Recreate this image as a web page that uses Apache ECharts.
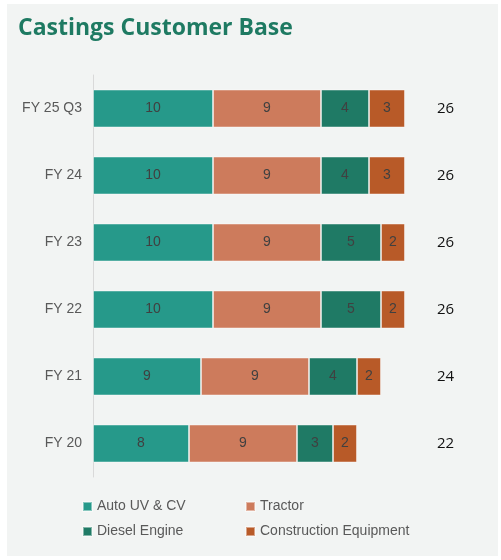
<!DOCTYPE html>
<html>
<head>
<meta charset="utf-8">
<script src="https://cdn.jsdelivr.net/npm/echarts@6/dist/echarts.min.js"></script>
<style>
  html, body { margin: 0; padding: 0; background: #fff; }
  #main { width: 501px; height: 560px; }
</style>
</head>
<body>
<div id="main"></div>
<script>
// categories, top to bottom as drawn
const years = ["FY 25 Q3", "FY 24", "FY 23", "FY 22", "FY 21", "FY 20"];
const autoUvCv = [10, 10, 10, 10, 9, 8];
const tractor = [9, 9, 9, 9, 9, 9];
const dieselEngine = [4, 4, 5, 5, 4, 3];
const construction = [3, 3, 2, 2, 2, 2];
const totals = [26, 26, 26, 26, 24, 22];

const chart = echarts.init(document.getElementById("main"));

// 每个分段共用的样式
function seg(name, data, color) {
  return {
    name: name,
    type: "bar",
    stack: "total",
    data: data,
    barWidth: 38,
    itemStyle: { color: color, borderColor: "rgba(255,255,255,0.45)", borderWidth: 1 },
    label: {
      show: true,
      position: "inside",
      color: "#404040",
      fontSize: 14,
      fontFamily: "Liberation Sans",
    },
  };
}

const legendText = { color: "#595959", fontSize: 14, fontFamily: "Liberation Sans", lineHeight: 15 };

chart.setOption({
  animation: false,
  backgroundColor: "#ffffff",
  graphic: [
    {
      type: "rect",
      z: -10,
      silent: true,
      shape: { x: 7, y: 4, width: 491, height: 552 },
      style: { fill: "#f2f4f3" },
    },
  ],
  title: {
    text: "Castings Customer Base",
    left: 18,
    top: 17,
    padding: 0,
    textStyle: { color: "#1e7a62", fontSize: 23, fontWeight: "bold", fontFamily: "Open Sans" },
  },
  legend: [
    {
      orient: "vertical",
      left: 82,
      top: 499,
      padding: 0,
      itemWidth: 9,
      itemHeight: 9,
      itemGap: 10,
      icon: "rect",
      data: ["Auto UV & CV", "Diesel Engine"],
      textStyle: legendText,
    },
    {
      orient: "vertical",
      left: 245,
      top: 499,
      padding: 0,
      itemWidth: 9,
      itemHeight: 9,
      itemGap: 10,
      icon: "rect",
      data: ["Tractor", "Construction Equipment"],
      textStyle: legendText,
    },
  ],
  grid: { left: 93, top: 75, height: 402, right: 72 },
  xAxis: {
    type: "value",
    min: 0,
    max: 28,
    show: false,
  },
  yAxis: [
    {
      type: "category",
      inverse: true,
      data: years,
      axisLine: { show: true, lineStyle: { color: "#d9d9d9" } },
      axisTick: { show: false },
      axisLabel: { color: "#595959", fontSize: 14, fontFamily: "Liberation Sans", margin: 11 },
    },
    {
      // totals column at the right
      type: "category",
      inverse: true,
      position: "right",
      data: totals,
      axisLine: { show: false },
      axisTick: { show: false },
      axisLabel: { color: "#111", fontSize: 15, fontFamily: "Open Sans", margin: 8 },
    },
  ],
  series: [
    seg("Auto UV & CV", autoUvCv, "#26998a"),
    seg("Tractor", tractor, "#cd7b5c"),
    seg("Diesel Engine", dieselEngine, "#1f7a65"),
    seg("Construction Equipment", construction, "#b85a28"),
  ],
});
</script>
</body>
</html>
